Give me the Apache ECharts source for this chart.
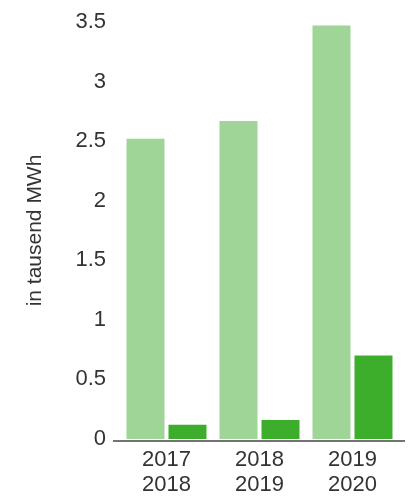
<!DOCTYPE html>
<html>
<head>
<meta charset="utf-8">
<script src="https://cdn.jsdelivr.net/npm/echarts@6/dist/echarts.min.js"></script>
<style>
html,body{margin:0;padding:0;background:#fff;}
#chart{width:413px;height:497px;}
</style>
</head>
<body>
<div id="chart"></div>
<script>
var categories = ['2017\n2018', '2018\n2019', '2019\n2020'];
var seriesLight = [2.52, 2.67, 3.47];
var seriesDark = [0.12, 0.16, 0.70];
var yTicks = [0, 0.5, 1, 1.5, 2, 2.5, 3, 3.5];
var axisTitle = 'in tausend MWh';

var chart = echarts.init(document.getElementById('chart'));
var font = '"Liberation Sans", Arial, sans-serif';
chart.setOption({
  animation: false,
  grid: {left: 120, right: 14, top: 22, bottom: 56},
  xAxis: {
    type: 'category',
    data: categories,
    axisLine: {show: false},
    axisTick: {show: false},
    axisLabel: {color: '#333', fontSize: 22, fontFamily: font, lineHeight: 25, margin: 8}
  },
  yAxis: {
    type: 'value',
    min: 0, max: yTicks[yTicks.length - 1], interval: 0.5,
    name: axisTitle,
    nameLocation: 'middle',
    nameGap: 74,
    nameTextStyle: {color: '#333', fontSize: 21, fontFamily: font},
    splitLine: {show: false},
    axisLine: {show: false},
    axisTick: {show: false},
    axisLabel: {color: '#333', fontSize: 22, fontFamily: font, margin: 14}
  },
  graphic: [{
    type: 'line',
    shape: {x1: 113, y1: 441, x2: 405, y2: 441},
    style: {stroke: '#444', lineWidth: 1.5}
  }],
  series: [
    {type: 'bar', data: seriesLight, barWidth: 38, barGap: '10.5%', itemStyle: {color: '#9fd597'}},
    {type: 'bar', data: seriesDark, barWidth: 38, itemStyle: {color: '#3dae2b'}}
  ]
});
</script>
</body>
</html>
